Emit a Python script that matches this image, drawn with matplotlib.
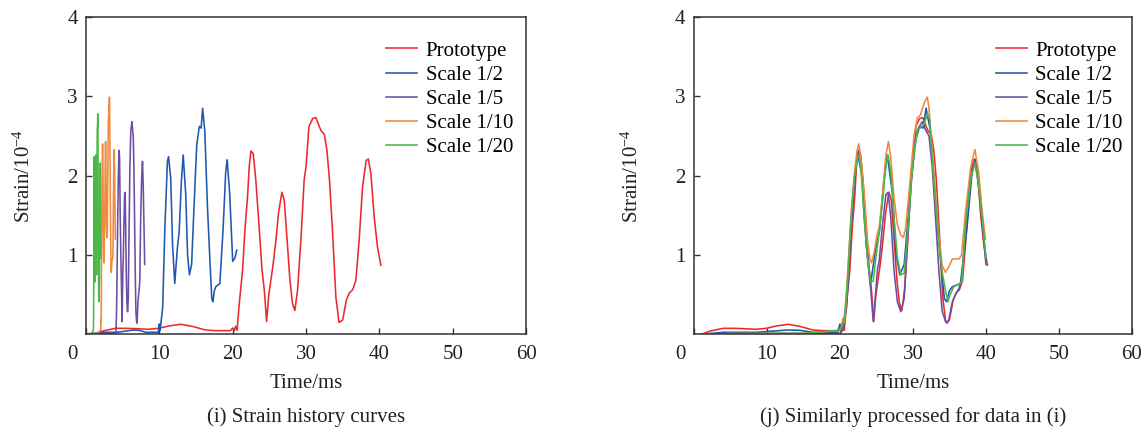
import numpy as np
import matplotlib.pyplot as plt

plt.rcParams['font.family'] = ['Liberation Serif', 'DejaVu Serif']
plt.rcParams['mathtext.fontset'] = 'custom'
plt.rcParams['mathtext.rm'] = 'Liberation Serif'
plt.rcParams['mathtext.it'] = 'Liberation Serif:italic'

# strain histories in prototype time (ms), strain in 1e-4
proto_t = [1.0, 2.2, 4.0, 5.5, 7.0, 8.5, 9.9, 11.3, 12.9, 14.5, 16.3, 17.6, 19.7, 20.0, 20.2, 20.4,
           20.6, 20.9, 21.35, 21.67, 22.03, 22.25, 22.49, 22.8, 23.15, 23.63, 24.0, 24.31, 24.63,
           24.9, 25.22, 25.54, 25.9, 26.25, 26.71, 27.03, 27.39, 27.8, 28.15, 28.48, 28.85, 29.3,
           29.75, 30.0, 30.4, 30.9, 31.35, 31.8, 32.1, 32.5, 32.85, 33.2, 33.6, 34.07, 34.5, 35.0,
           35.5, 35.9, 36.35, 36.8, 37.25, 37.71, 38.2, 38.5, 38.84, 39.3, 39.75, 40.2]
proto_v = [0.0, 0.04, 0.075, 0.075, 0.07, 0.063, 0.075, 0.105, 0.126, 0.1, 0.054, 0.046, 0.046,
           0.08, 0.04, 0.1, 0.05, 0.39, 0.81, 1.32, 1.74, 2.11, 2.31, 2.28, 1.95, 1.32, 0.81, 0.56,
           0.16, 0.48, 0.69, 0.9, 1.19, 1.53, 1.79, 1.69, 1.23, 0.69, 0.39, 0.3, 0.56, 1.19, 1.95,
           2.11, 2.62, 2.72, 2.73, 2.62, 2.56, 2.52, 2.32, 1.95, 1.32, 0.47, 0.15, 0.18, 0.43, 0.52,
           0.56, 0.68, 1.19, 1.86, 2.19, 2.21, 2.03, 1.48, 1.1, 0.87]

s2_t = [1.0, 4.0, 8.5, 9.9, 12.9, 14.5, 16.3, 19.7, 20.0, 20.2, 20.9, 21.5, 22.2, 22.5, 23.1,
        23.6, 24.2, 24.9, 25.4, 26.0, 26.5, 27.2, 27.7, 28.2, 28.8, 29.4, 30.2, 30.9, 31.4, 31.8,
        32.4, 33.1, 33.8, 34.3, 34.6, 35.0, 35.4, 36.5, 37.4, 38.1, 38.5, 39.2, 40.0, 40.6, 41.1]
s2_v = [0.0, 0.025, 0.025, 0.034, 0.054, 0.05, 0.025, 0.025, 0.13, 0.05, 0.33, 1.34, 2.18, 2.24,
        1.97, 1.13, 0.64, 1.08, 1.29, 1.92, 2.26, 1.76, 1.0, 0.75, 0.88, 1.55, 2.39, 2.62, 2.6,
        2.85, 2.56, 1.63, 0.92, 0.45, 0.41, 0.55, 0.6, 0.64, 1.34, 2.05, 2.2, 1.76, 0.92, 0.96, 1.06]

s5_t = [1.0, 5.0, 10.0, 15.0, 20.0, 20.4, 20.7, 21.0, 21.5, 22.0, 22.3, 22.6, 22.9, 23.3, 23.78,
        24.24, 24.56, 24.79, 25.15, 25.37, 25.83, 26.29, 26.6, 26.97, 27.42, 27.87, 28.33, 28.8,
        29.24, 29.9, 30.5, 31.0, 31.3, 31.7, 32.2, 32.65, 33.1, 33.56, 34.0, 34.47, 34.7, 34.9,
        35.4, 35.84, 36.3, 36.7, 37.2, 37.9, 38.5, 39.0, 39.5, 40.0]
s5_v = [0.0, 0.01, 0.012, 0.012, 0.01, 0.05, 0.2, 0.5, 1.3, 1.95, 2.2, 2.32, 2.2, 1.5, 0.95, 0.54,
        0.16, 0.41, 0.83, 0.92, 1.38, 1.76, 1.79, 1.46, 0.79, 0.41, 0.285, 0.45, 1.17, 2.09, 2.55,
        2.64, 2.68, 2.58, 2.5, 2.1, 1.46, 0.79, 0.29, 0.16, 0.14, 0.18, 0.41, 0.5, 0.58, 0.7, 1.38,
        1.96, 2.18, 1.88, 1.38, 0.88]

s10_t = [1.0, 5.0, 10.0, 15.0, 20.0, 20.2, 20.4, 20.6, 20.8, 21.2, 21.6, 22.0, 22.35, 22.6, 22.9,
         23.33, 23.78, 24.1, 24.33, 24.7, 25.06, 25.37, 25.83, 26.29, 26.65, 26.97, 27.42, 27.87,
         28.33, 28.7, 29.0, 29.47, 30.15, 30.6, 31.0, 31.3, 31.7, 31.97, 32.2, 32.65, 33.1, 33.56,
         34.0, 34.47, 34.9, 35.4, 36.3, 36.66, 37.2, 37.9, 38.48, 39.0, 39.48, 39.93]
s10_v = [0.0, 0.008, 0.01, 0.01, 0.05, 0.1, 0.2, 0.15, 0.35, 1.0, 1.6, 2.05, 2.32, 2.4, 2.2, 1.76,
         1.17, 0.95, 0.9, 1.04, 1.25, 1.34, 1.76, 2.26, 2.43, 2.22, 1.71, 1.38, 1.25, 1.22, 1.34,
         1.8, 2.51, 2.73, 2.76, 2.85, 2.95, 2.99, 2.85, 2.3, 1.75, 1.24, 0.87, 0.78, 0.85, 0.95,
         0.95, 1.0, 1.55, 2.1, 2.33, 2.05, 1.55, 1.2]

s20_t = [1.0, 5.0, 10.0, 15.0, 19.9, 20.3, 20.6, 21.05, 21.5, 21.96, 22.41, 22.64, 22.96, 23.33,
         23.78, 24.24, 24.56, 24.92, 25.37, 25.83, 26.29, 26.6, 26.97, 27.42, 27.87, 28.33, 28.8,
         29.24, 29.92, 30.6, 31.0, 31.5, 32.0, 32.3, 32.65, 33.1, 33.56, 34.0, 34.47, 34.8, 35.1,
         35.6, 36.3, 36.7, 37.2, 37.9, 38.5, 39.0, 39.5, 40.0]
s20_v = [0.0, 0.008, 0.01, 0.01, 0.05, 0.1, 0.2, 0.71, 1.46, 1.97, 2.22, 2.24, 1.97, 1.46, 0.96,
         0.66, 0.67, 0.96, 1.29, 1.67, 2.13, 2.26, 2.05, 1.46, 0.96, 0.75, 0.77, 1.25, 2.09, 2.58,
         2.6, 2.65, 2.78, 2.7, 2.22, 1.67, 1.13, 0.79, 0.54, 0.41, 0.5, 0.6, 0.63, 0.66, 1.38, 1.96,
         2.16, 1.88, 1.46, 0.96]

labels = ['Prototype', 'Scale 1/2', 'Scale 1/5', 'Scale 1/10', 'Scale 1/20']
scales = [1, 2, 5, 10, 20]
colors = ['#ec2a2e', '#1f57ab', '#6c4fa3', '#ee8b3e', '#4db848']
series = [(proto_t, proto_v), (s2_t, s2_v), (s5_t, s5_v), (s10_t, s10_v), (s20_t, s20_v)]

xticks = [0, 10, 20, 30, 40, 50, 60]
yticks = [1, 2, 3, 4]
captions = ['(i) Strain history curves', '(j) Similarly processed for data in (i)']

fig = plt.figure(figsize=(11.47, 4.32), dpi=100)
ax1 = fig.add_axes([0.075, 0.2262, 0.3836, 0.7345])
ax2 = fig.add_axes([0.605, 0.2262, 0.3819, 0.7345])

for (t, v), s, c, lab in zip(series, scales, colors, labels):
    t = np.array(t)
    v = np.array(v)
    # left panel: model time; right panel: converted back to prototype time
    ax1.plot(t / s, v, color=c, lw=1.15, label=lab)
    keep = t <= 40.2
    ax2.plot(t[keep], v[keep], color=c, lw=1.15, label=lab)

for ax, cap, lx in zip([ax1, ax2], captions, [0.682, 0.689]):
    ax.set_xlim(0, 60)
    ax.set_ylim(0, 4)
    ax.set_xticks(xticks)
    ax.set_xticklabels([''] + [str(x) for x in xticks[1:]])
    ax.set_yticks(yticks)
    ax.tick_params(direction='in', length=4, width=1, colors='#333333', labelsize=15,
                   labelcolor='#222222')
    ax.tick_params(axis='x', pad=8)
    ax.tick_params(axis='y', pad=6)
    for sp in ax.spines.values():
        sp.set_color('#333333')
        sp.set_linewidth(1.1)
    ax.annotate('0', xy=(0, 0), xycoords='axes fraction', xytext=(-10, -14.4),
                textcoords='offset points', ha='center', va='center', fontsize=15,
                color='#222222')
    ax.set_xlabel('Time/ms', fontsize=15, color='#222222')
    ax.xaxis.set_label_coords(0.5, -0.154)
    ax.xaxis.label.set_va('center')
    ax.set_ylabel('Strain/10$^{-4}$', fontsize=15, color='#222222')
    ax.yaxis.set_label_coords(-0.14, 0.5)
    ax.yaxis.label.set_va('center')
    ax.text(0.5, -0.262, cap, transform=ax.transAxes, ha='center', va='center',
            fontsize=15, color='#222222')
    ax.legend(loc='upper left', bbox_to_anchor=(lx, 0.924), frameon=False, fontsize=15,
              borderpad=0, borderaxespad=0, handlelength=1.5, handletextpad=0.4,
              labelspacing=0.22)

fig.savefig('out.png', dpi=100)
